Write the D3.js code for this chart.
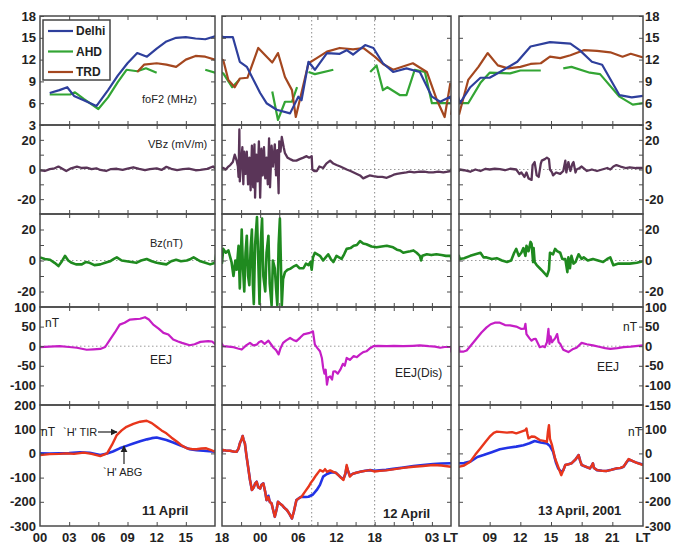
<!DOCTYPE html>
<html>
<head>
<meta charset="utf-8">
<script src="https://cdn.jsdelivr.net/npm/d3@7"></script>
<style>
  body { margin: 0; background: #fff; }
  text { font-family: "Liberation Sans", Arial, sans-serif; }
</style>
</head>
<body>
<svg id="chart" width="680" height="552"></svg>
<script>
// time is hours of local time counted from 00 LT on 11 April 2001
// null marks a gap in the record

// foF2 (MHz)
var fof2Delhi = [[1,7.4],[2,7.8],[2.8,8.2],[3.5,7.0],[4.5,6.4],[5.8,5.6],[7,7.8],[8,9.8],[9,11.5],[10,12.9],[11,12.4],[12,13.5],[13,14.5],[14,15.0],[15,15.1],[16,14.9],[17,14.8],[18,15.2],
  [18.2,15.1],[19.7,15.1],[20.8,11.7],[21.9,11.0],[24,7.4],[25,6.0],[26.6,5.1],[28.7,4.6],[30,6.9],[30.5,6.4],[31.6,11.7],[32.6,10.6],[34.5,12.9],[36.5,12.8],[37.6,13.3],[38.6,12.7],[40.5,14.0],[41.8,13.6],[43.3,11.5],[44.9,10.3],[47,10.8],[49.1,10.3],[51,6.9],[52.3,6.2],[53.9,6.9],
  [54.1,6.0],[55.1,8.2],[56.1,9.5],[57,9.5],[58,10.3],[59.7,11.7],[61,13.8],[62.9,14.4],[64.9,14.2],[65.8,13.3],[67,11.7],[68,11.3],[69.7,7.1],[70.9,6.8],[72,7.0]];
var fof2AHD = [[1,7.2],[3.1,7.2],[3.6,7.5],[4.5,6.6],[6,5.2],[7,6.8],[8,8.9],[8.9,10.6],[10,10.4],[10.9,10.8],[12,10.2],[12.1,null],[17,10.6],[18,10.2],
  [18.2,10.1],[19.6,8.2],[20.8,9.3],[20.9,null],[25.9,7.6],[26.8,3.7],[27.9,6.2],[29,6.2],[29.8,8.2],[29.9,null],[31.6,10.3],[32.6,10.0],[35.5,10.6],[35.6,null],[41.3,10.3],[42.3,11.2],[43.3,7.8],[44,8.2],[46,7.1],[47,7.1],[48.3,10.6],[49.9,10.3],[51,6.0],[54,6.0],
  [54.1,6.0],[54.9,6.0],[56.1,8.8],[57,10.2],[59,10.1],[60,10.5],[62,10.5],[62.1,null],[64.2,10.8],[65,11.0],[66.8,10.2],[67.8,10.0],[69.7,6.9],[71,5.8],[72,6.0]];
var fof2TRD = [[10,10.3],[10.7,11.3],[12,11.5],[13,11.3],[14,11.0],[15,12.0],[16,12.5],[17,12.4],[18,12.0],
  [18.2,11.9],[19,9.2],[20,8.2],[20.8,9.4],[22,9.5],[23.7,13.6],[25.9,11.6],[26.8,12.9],[27.9,9.6],[29,7.8],[29.6,4.1],[30.6,7.8],[31.6,11.5],[32.9,12.2],[34.5,13.1],[36.5,13.6],[38.6,13.4],[40.2,13.6],[42,12.4],[43.3,11.4],[44.9,10.6],[48,11.5],[50.2,10.3],[51.8,6.4],[53,4.1],[53.9,8.8],[53.95,null],
  [54,4.4],[54.9,9.2],[55.9,11.0],[56.8,12.9],[57.8,11.2],[58.8,10.8],[60,11.0],[61,11.4],[62,11.5],[62.9,12.4],[63.9,12.2],[64.9,12.6],[66.2,13.3],[67.5,13.2],[68.8,13.0],[70,12.4],[70.8,12.8],[72,12.3]];

// VBz (mV/m)
var vbz = [[0,-0.5],[0.5,-1],[1,0.2],[1.5,0.8],[1.9,2],[2.3,0.5],[2.7,-1],[3.2,0.8],[3.8,2],[4.3,1],[4.8,1.2],[5.3,0.2],[5.8,0.8],[6.2,-0.3],[6.8,-1],[7.3,0.3],[7.9,0.5],[8.5,-0.2],[9,0.6],[9.6,1.5],[10.2,0.4],[10.8,-0.5],[11.3,0.2],[12,0.8],[12.5,-0.3],[13,1.8],[13.5,0.5],[14.1,-0.4],[14.7,0.3],[15.3,0.6],[16,-0.5],[16.5,-0.2],[17.2,0.4],[17.8,2],[18,1],
  [18.2,1],[18.6,0],[19,2],[19.3,3],[19.7,5],[20.0,10],[20.3,6],[20.5,2],[20.6,-5],[20.73,27],[20.8,-8],[21.0,5],[21.2,15],[21.35,-10],[21.5,12],[21.7,-3],[21.9,12],[22.1,-10],[22.3,8],[22.5,-14],[22.7,16],[22.9,-12],[23.1,17],[23.2,-19],[23.4,10],[23.6,-8],[23.8,19],[24,-19],[24.2,14],[24.4,-4],[24.6,15],[24.8,-6],[25,8],[25.2,-10],[25.4,21],[25.55,-12],[25.8,16],[26,2],[26.3,17],[26.5,-4],[26.7,13],[26.9,-16],[27.0,19],[27.2,12],[27.4,22],[27.7,15],[27.9,11],[28.3,8],[28.7,7],[29.2,6],[29.7,6],[30.2,7],[30.8,8],[31.3,9],[31.7,8],[32.1,9],[32.2,0],[32.5,-1],[32.9,-1],[33.3,2],[33.9,1],[34.4,4],[35,6],[35.5,4],[36,3],[36.6,2],[37.1,1],[37.6,0],[38.2,-1],[38.7,-2],[39.2,-3],[39.7,-4],[40.2,-6],[40.7,-5],[41.2,-4],[41.8,-4.5],[42.5,-5],[43.2,-5],[43.9,-5.6],[44.5,-4.5],[45,-3.5],[45.5,-3],[46.2,-2.5],[47,-2],[47.5,-1.5],[48.2,-2],[49.1,-1.5],[49.8,-1.5],[50.5,-2],[51.2,-2],[52,-1.5],[52.8,-2],[53.5,-1.5],[54,-1],
  [54.05,0],[54.5,-0.5],[55.1,-1.5],[55.6,0],[56.1,-1],[56.6,0.5],[57,0],[57.5,0.5],[58,0.3],[58.5,-0.5],[59,0.5],[59.6,0],[59.9,-3],[60.1,-2],[60.4,-5],[60.6,-2],[60.8,-6],[61.1,-7],[61.2,3],[61.4,5],[61.6,-4],[61.8,-5],[62.0,4],[62.1,6],[62.4,7],[62.6,8],[62.8,7],[62.9,0],[63.1,-2],[63.2,-4],[63.5,-2],[63.9,-3],[64.2,-1],[64.4,6],[64.5,-2],[64.7,5],[64.9,-1],[65.1,4],[65.2,5],[65.4,-2],[65.5,0],[65.8,1],[66,2],[66.5,-1],[67,0],[67.5,-1],[68,0],[68.5,1],[68.8,0],[69.1,2],[69.4,3],[69.8,2],[70.3,1],[70.7,1.5],[71.3,1],[72,1]];

// Bz (nT)
var bz = [[0,2],[0.5,1],[1.03,0.5],[1.5,-1.5],[1.9,-3.6],[2.2,-1],[2.57,3],[2.9,0],[3.26,-1.5],[3.7,-2.5],[4.3,-2.5],[4.7,-1],[5.1,-1.5],[5.6,-3],[6.2,-2.5],[6.7,-1.5],[7.2,-0.5],[7.6,1],[7.9,2],[8.4,0],[8.9,-0.5],[9.4,-1],[9.9,-1.5],[10.4,0],[10.97,1],[11.5,-0.5],[12,-1.5],[12.5,-2],[13,-2.5],[13.5,-0.5],[14,0.5],[14.5,-0.5],[15.1,0],[15.5,1],[15.8,2],[16.2,0.5],[16.5,-0.5],[17,-1.5],[17.5,-2.5],[18,-1.5],
  [18.2,7.5],[18.6,5],[19,6.5],[19.3,2],[19.5,-1],[19.8,-10],[20.1,0],[20.3,-6],[20.6,9.5],[20.8,-18],[21.1,20],[21.3,-5],[21.5,-20],[21.7,5],[21.9,16],[22.1,-10],[22.3,-16],[22.5,8],[22.7,20],[22.85,-15],[23.0,-28],[23.2,10],[23.5,28],[23.7,0],[23.9,-28],[24.1,12],[24.3,27],[24.5,-10],[24.8,-20],[25.0,5],[25.3,16],[25.5,-15],[25.8,-29],[26.0,0],[26.3,-5],[26.5,-18],[26.7,-29],[26.9,10],[27.1,27],[27.25,0],[27.4,-29],[27.6,-12],[27.9,-7.5],[28.3,-6],[28.7,-5.4],[29.2,-4],[29.7,-3],[30.2,-5],[30.8,-5],[31.2,-2],[31.6,-3],[31.9,-1],[32.1,-6],[32.3,2],[32.6,5],[33,4],[33.4,3],[33.9,0],[34.3,2],[34.7,4],[35.1,1],[35.5,-1],[36,3],[36.4,2],[36.8,1],[37.2,4],[37.6,7.5],[38.2,8],[38.7,9.5],[39.2,10],[39.7,12.5],[40.2,11],[40.7,10.5],[41.5,9],[42.3,8.5],[43.1,9],[43.9,9.5],[44.4,9],[44.9,8.5],[45.5,7],[46,6.5],[46.5,5],[47,5.5],[47.6,6],[48.1,6.5],[48.6,5],[49.1,3],[49.3,0],[49.5,3],[50.2,4],[50.9,3.5],[51.7,4],[52.5,3.5],[53.2,3],[54,3],
  [54.05,1],[54.5,1.5],[55.1,3],[55.6,4],[56.1,5],[56.4,2],[56.7,2],[57.2,1],[57.7,1.5],[58.2,0],[58.7,-1],[59.1,0],[59.4,5],[59.6,7.5],[59.85,3],[60.1,5],[60.3,8],[60.5,3],[60.6,9.5],[60.8,6],[61.0,12],[61.1,10.8],[61.25,-1],[61.3,8],[61.4,-1],[61.6,-3],[61.9,-5],[62.2,-7],[62.6,-10],[62.8,-6],[62.9,5],[63.2,4],[63.4,7.5],[63.6,6],[63.9,5],[64.1,1],[64.4,1],[64.6,-7.5],[64.7,2],[64.85,-5],[65.0,3],[65.2,-2],[65.4,-1],[65.7,4],[66.0,1],[66.2,2],[66.6,0],[67.1,1],[67.6,0],[68.1,-1],[68.5,1],[68.8,2],[69.1,-3],[69.6,-2],[70.1,-2],[70.7,-2],[71.4,-1.5],[72,-0.5]];

// EEJ (nT)
var eej = [[0,-2.5],[1,-1],[2,0],[3,-2],[3.8,-4],[4.8,-9],[5.5,-8],[6.2,-7],[6.7,-2],[7.2,17],[7.7,35],[8.2,55],[8.7,60],[9.26,68],[9.8,69],[10.3,70],[10.8,74],[11.2,68],[11.65,55],[12.2,45],[12.7,34],[13.2,30],[13.7,17],[14.2,12],[14.6,8.5],[15.4,2.5],[15.9,5],[16.5,11],[17.3,13],[17.7,12],[18,6],
  [18.2,0],[19,-1],[19.8,-2.5],[20.5,-6],[21.1,-8.5],[21.8,2],[22.4,8.5],[22.9,2],[23.45,4],[23.8,10],[24.2,13],[24.7,6],[25.3,14],[25.7,5],[26.1,-4],[26.5,-10],[26.9,-21],[27.2,-5],[27.6,8.5],[28.1,15],[28.7,21],[29.2,16],[29.7,13],[30.3,22],[30.8,30],[31.3,32],[31.8,34],[32.3,38],[32.6,4],[33.0,-5],[33.4,-13],[33.7,-30],[33.9,-55],[34.1,-70],[34.3,-60],[34.5,-98],[34.7,-80],[35,-77],[35.3,-85],[35.5,-65],[35.8,-64],[36.2,-70],[36.6,-60],[37.0,-45],[37.3,-50],[37.6,-30],[38.1,-35],[38.7,-25],[39.2,-28],[39.7,-21],[40.2,-15],[40.7,-13],[41.2,-6],[41.8,0],[42.5,1],[43.9,0],[45,1],[46.5,0],[48,1],[49.1,2],[50.5,0],[51.5,-1],[52.3,-4],[53,-2],[54,-2],
  [54.05,-14],[54.4,-14],[54.75,-11],[55.2,3],[55.7,19],[56.2,35],[56.7,48],[57.1,56],[57.5,60],[58,60],[58.5,54],[59,53],[59.6,50],[60.1,44],[60.4,45],[60.5,57],[60.6,31],[60.9,20],[61.1,14],[61.3,18],[61.5,19],[61.7,8],[61.9,-2.5],[62.2,0],[62.4,-2.5],[62.6,10],[62.75,44],[62.85,6],[62.95,25],[63.1,10],[63.2,14],[63.4,20],[63.6,31],[63.75,10],[63.9,6],[64.2,-9],[64.7,-15],[65.1,-8],[65.5,-4],[66,8.5],[66.5,5],[67.1,2],[67.8,-2],[68.3,-5],[68.8,-7],[69.5,-5],[70.1,-2.5],[70.8,-1],[71.5,1],[72,2]];

// H (nT): TIR in red, ABG in blue
var hTIR = [[0,-7],[1,-3],[2,-2],[2.74,0],[3.5,-2],[4.5,3],[5.3,-2],[6.2,-11],[6.9,0],[7.4,35],[7.9,76],[8.4,95],[8.9,110],[9.6,122],[10.3,131],[10.97,135],[11.5,125],[12,110],[12.5,95],[13,83],[13.5,66],[14.1,48],[14.6,32],[15.1,21],[15.6,18],[16.1,17],[16.6,20],[17.1,21],[17.6,14],[18,7],
  [18.1,14],[18.6,12],[19.26,11],[19.8,8],[20.3,7],[20.6,20],[20.8,41],[21.1,60],[21.25,72],[21.4,55],[21.6,41],[21.85,-10],[22.1,-55],[22.4,-110],[22.7,-151],[23.0,-140],[23.2,-125],[23.45,-117],[23.7,-140],[24,-145],[24.2,-130],[24.5,-124],[24.8,-160],[25,-193],[25.3,-180],[25.5,-200],[25.8,-207],[26.0,-230],[26.3,-262],[26.6,-230],[26.8,-200],[27.1,-207],[27.5,-215],[27.8,-225],[28.2,-234],[28.6,-250],[29,-269],[29.3,-240],[29.7,-193],[30.1,-185],[30.5,-179],[31,-160],[31.6,-138],[32,-120],[32.3,-110],[32.8,-90],[33.4,-69],[33.9,-75],[34.2,-65],[34.5,-76],[35,-70],[35.5,-76],[35.9,-80],[36.3,-90],[36.7,-100],[37.1,-110],[37.4,-80],[37.6,-48],[37.8,-70],[38.1,-96],[38.5,-85],[39.1,-80],[39.7,-76],[40.5,-72],[41.3,-69],[42,-75],[42.8,-72],[43.8,-70],[44.9,-66],[46.5,-60],[48.1,-55],[49.6,-52],[51.2,-48],[52.5,-50],[54,-55],
  [54.05,-55],[54.5,-50],[55.1,-34],[55.6,-5],[56.1,21],[56.6,48],[57,69],[57.4,85],[57.7,90],[58.2,88],[58.7,86],[59.2,88],[59.6,83],[60.1,90],[60.5,96],[60.6,103],[60.7,80],[60.8,62],[61.1,70],[61.4,69],[61.9,55],[62.3,52],[62.6,48],[62.7,90],[62.8,117],[62.9,60],[63.1,34],[63.4,-21],[63.7,-55],[64,-90],[64.2,-70],[64.4,-48],[64.7,-45],[65,-41],[65.4,-25],[65.7,-7],[65.85,-30],[66,-48],[66.4,-55],[66.8,-62],[67,-50],[67.1,-41],[67.2,-60],[67.5,-69],[68,-72],[68.4,-73],[68.9,-68],[69.4,-62],[69.8,-60],[70.1,-55],[70.4,-35],[70.6,-23],[71,-32],[71.4,-39],[72,-48]];
var hABG = [[0,0],[1,-1],[2,0],[3,1],[4.1,5],[5.1,3],[6.2,-7],[6.9,0],[7.5,8],[8.2,21],[8.9,31],[9.6,41],[10.3,50],[11,58],[11.5,63],[12,66],[12.5,61],[13,55],[13.7,45],[14.4,34],[15,24],[15.4,17],[16.1,13],[16.8,11],[17.4,9],[18,7],
  [18.1,14],[18.6,12],[19.26,11],[19.8,8],[20.3,7],[20.6,20],[20.8,41],[21.1,60],[21.25,72],[21.4,55],[21.6,41],[21.85,-10],[22.1,-55],[22.4,-110],[22.7,-151],[23.0,-140],[23.2,-125],[23.45,-117],[23.7,-140],[24,-145],[24.2,-130],[24.5,-124],[24.8,-160],[25,-193],[25.3,-175],[25.5,-200],[25.8,-207],[26.0,-230],[26.3,-262],[26.6,-230],[26.8,-200],[27.1,-207],[27.5,-215],[27.8,-225],[28.2,-234],[28.6,-250],[29,-269],[29.3,-240],[29.7,-193],[30.1,-185],[30.5,-179],[31.2,-180],[31.6,-179],[32.3,-170],[32.9,-151],[33.4,-130],[33.9,-96],[34.5,-85],[35,-80],[35.5,-78],[35.9,-80],[36.3,-90],[36.7,-100],[37.1,-105],[37.4,-85],[37.6,-55],[37.8,-72],[38.1,-92],[38.5,-85],[39.1,-80],[39.7,-76],[40.5,-72],[41.3,-69],[42,-72],[42.8,-70],[43.8,-68],[44.9,-64],[46.5,-58],[48.1,-52],[49.6,-48],[51.2,-44],[52.5,-42],[54,-41],
  [54.05,-41],[54.5,-40],[55.1,-34],[55.8,-15],[56.4,-7],[57.2,5],[58,17],[58.8,23],[59.6,28],[60.3,34],[60.9,42],[61.4,51],[62,45],[62.6,41],[62.9,30],[63.2,7],[63.5,-40],[63.7,-62],[64,-76],[64.2,-70],[64.4,-48],[64.7,-45],[65,-41],[65.4,-25],[65.7,-7],[65.85,-30],[66,-48],[66.4,-55],[66.8,-62],[67,-50],[67.1,-41],[67.2,-60],[67.5,-69],[68,-72],[68.4,-73],[68.9,-68],[69.4,-62],[69.8,-60],[70.1,-55],[70.4,-37],[70.6,-25],[71,-32],[71.4,-39],[72,-46]];

// axis labels
var fof2Ticks = [3, 6, 9, 12, 15, 18];
var fieldTicks = [-20, 0, 20];
var eejLeftTicks = [-100, -50, 0, 50, 100];
var eejRightTicks = [-150, -100, -50, 0, 50, 100];
var hLeftTicks = [-300, -200, -100, 0, 100, 200];
var hRightTicks = [-300, -200, -100, 0, 100];
var legendNames = ["Delhi", "AHD", "TRD"];
var bottomLabels = [[0,"00"],[3,"03"],[6,"06"],[9,"09"],[12,"12"],[15,"15"],[18,"18"],[24,"00"],[30,"06"],[36,"12"],[42,"18"],[51,"03"],[57,"09"],[60,"12"],[63,"15"],[66,"18"],[69,"21"]];
var dayNames = ["11 April", "12 April", "13 April, 2001"];

(function () {
  var svg = d3.select("#chart");
  svg.append("rect").attr("width", 680).attr("height", 552).attr("fill", "#fff");

  var frameColor = "#4a4a4a";
  var cols = [
    {x0: 40, x1: 215, t0: 0, t1: 18},
    {x0: 222, x1: 451, t0: 18, t1: 54},
    {x0: 459, x1: 643, t0: 54, t1: 72}
  ];
  var rows = [
    {y0: 16, y1: 125, dom: [3, 18], ticks: d3.range(3, 19, 3), left: fof2Ticks, right: fof2Ticks},
    {y0: 125, y1: 214, dom: [-30, 30], ticks: d3.range(-20, 21, 10), left: fieldTicks, right: fieldTicks, zero: true},
    {y0: 214, y1: 307, dom: [-30, 30], ticks: d3.range(-20, 21, 10), left: fieldTicks, right: fieldTicks, zero: true},
    {y0: 307, y1: 405, dom: [-150, 100], ticks: d3.range(-100, 51, 50), left: eejLeftTicks, right: eejRightTicks, zero: true},
    {y0: 405, y1: 526, dom: [-300, 200], ticks: d3.range(-200, 101, 100), left: hLeftTicks, right: hRightTicks}
  ];
  cols.forEach(function(c) { c.x = d3.scaleLinear().domain([c.t0, c.t1]).range([c.x0, c.x1]); });
  rows.forEach(function(r) { r.y = d3.scaleLinear().domain(r.dom).range([r.y1, r.y0]); });

  var series = [
    {row: 0, data: fof2AHD, color: "#33a534", width: 2.2},
    {row: 0, data: fof2TRD, color: "#a4471f", width: 2.2},
    {row: 0, data: fof2Delhi, color: "#2e3f9c", width: 2.2},
    {row: 1, data: vbz, color: "#5a3558", width: 2.3},
    {row: 2, data: bz, color: "#1f8a1f", width: 2.6},
    {row: 3, data: eej, color: "#c51ec5", width: 2.2},
    {row: 4, data: hABG, color: "#2233e6", width: 2.6},
    {row: 4, data: hTIR, color: "#e8361c", width: 2.4}
  ];

  var defs = svg.append("defs");
  cols.forEach(function(c, ci) {
    rows.forEach(function(r, ri) {
      defs.append("clipPath").attr("id", "clip" + ci + "_" + ri)
        .append("rect")
        .attr("x", c.x0).attr("y", r.y0)
        .attr("width", c.x1 - c.x0).attr("height", r.y1 - r.y0);
    });
  });

  // dotted reference lines
  cols.forEach(function(c) {
    rows.forEach(function(r) {
      if (!r.zero) return;
      svg.append("line")
        .attr("x1", c.x0).attr("x2", c.x1)
        .attr("y1", r.y(0)).attr("y2", r.y(0))
        .attr("stroke", "#9a9a9a").attr("stroke-width", 1)
        .attr("stroke-dasharray", "1.5,2.5");
    });
  });
  [32.1, 42].forEach(function(t) {
    svg.append("line")
      .attr("x1", cols[1].x(t)).attr("x2", cols[1].x(t))
      .attr("y1", rows[0].y0).attr("y2", rows[4].y1)
      .attr("stroke", "#8a8a8a").attr("stroke-width", 1)
      .attr("stroke-dasharray", "1.5,2.5");
  });

  // data lines
  cols.forEach(function(c, ci) {
    series.forEach(function(s) {
      var r = rows[s.row];
      var line = d3.line()
        .defined(function(d) { return d[1] !== null; })
        .x(function(d) { return c.x(d[0]); })
        .y(function(d) { return r.y(d[1]); });
      svg.append("path")
        .datum(s.data)
        .attr("clip-path", "url(#clip" + ci + "_" + s.row + ")")
        .attr("d", line)
        .attr("fill", "none")
        .attr("stroke", s.color)
        .attr("stroke-width", s.width)
        .attr("stroke-linejoin", "round");
    });
  });

  // frames and inward ticks
  cols.forEach(function(c) {
    var hours = d3.range(c.t0 + 3, c.t1, 3);
    rows.forEach(function(r) {
      var g = svg.append("g").attr("class", "frame");
      g.append("g").attr("transform", "translate(0," + r.y1 + ")")
        .call(d3.axisBottom(c.x).tickValues(hours).tickSizeInner(-4).tickSizeOuter(0).tickFormat(""));
      g.append("g").attr("transform", "translate(0," + r.y0 + ")")
        .call(d3.axisTop(c.x).tickValues(hours).tickSizeInner(-4).tickSizeOuter(0).tickFormat(""));
      g.append("g").attr("transform", "translate(" + c.x0 + ",0)")
        .call(d3.axisLeft(r.y).tickValues(r.ticks).tickSizeInner(-4).tickSizeOuter(0).tickFormat(""));
      g.append("g").attr("transform", "translate(" + c.x1 + ",0)")
        .call(d3.axisRight(r.y).tickValues(r.ticks).tickSizeInner(-4).tickSizeOuter(0).tickFormat(""));
      g.selectAll(".domain").remove();
      g.selectAll(".tick line").attr("stroke", frameColor).attr("stroke-width", 1);
      g.append("rect")
        .attr("x", c.x0).attr("y", r.y0)
        .attr("width", c.x1 - c.x0).attr("height", r.y1 - r.y0)
        .attr("fill", "none").attr("stroke", frameColor).attr("stroke-width", 1.5);
    });
  });

  // value labels
  rows.forEach(function(r) {
    r.left.forEach(function(v) {
      svg.append("text").attr("x", 36).attr("y", r.y(v)).attr("dy", "0.36em")
        .attr("text-anchor", "end").attr("font-size", 13).attr("font-weight", "bold")
        .attr("fill", "#222").text(v);
    });
    r.right.forEach(function(v) {
      svg.append("text").attr("x", 645).attr("y", r.y(v)).attr("dy", "0.36em")
        .attr("text-anchor", "start").attr("font-size", 13).attr("font-weight", "bold")
        .attr("fill", "#222").text(v);
    });
  });

  // hour labels
  bottomLabels.forEach(function(b) {
    var c = b[0] < 18 ? cols[0] : (b[0] < 54 ? cols[1] : cols[2]);
    svg.append("text").attr("x", c.x(b[0])).attr("y", 542)
      .attr("text-anchor", "middle").attr("font-size", 13).attr("font-weight", "bold")
      .attr("fill", "#222").text(b[1]);
  });
  svg.append("text").attr("x", 443).attr("y", 542).attr("font-size", 13)
    .attr("font-weight", "bold").attr("fill", "#222").text("LT");
  svg.append("text").attr("x", cols[2].x(72)).attr("y", 542).attr("text-anchor", "middle")
    .attr("font-size", 13).attr("font-weight", "bold").attr("fill", "#222").text("LT");

  // legend
  var legendColors = ["#2e3f9c", "#33a534", "#a4471f"];
  svg.append("rect").attr("x", 43).attr("y", 20).attr("width", 67).attr("height", 60)
    .attr("fill", "#fff").attr("stroke", "#444").attr("stroke-width", 1.5);
  legendNames.forEach(function(name, i) {
    var y = 31 + i * 20.5;
    svg.append("line").attr("x1", 48).attr("x2", 73).attr("y1", y).attr("y2", y)
      .attr("stroke", legendColors[i]).attr("stroke-width", 2.2);
    svg.append("text").attr("x", 76).attr("y", y).attr("dy", "0.36em")
      .attr("font-size", 12).attr("font-weight", "bold").attr("fill", "#222").text(name);
  });

  // panel notes
  function note(x, y, txt, size, bold, anchor) {
    svg.append("text").attr("x", x).attr("y", y).attr("font-size", size)
      .attr("font-weight", bold ? "bold" : "normal")
      .attr("text-anchor", anchor || "start").attr("fill", "#222").text(txt);
  }
  note(142, 103, "foF2 (MHz)", 11);
  note(148, 148, "VBz (mV/m)", 11);
  note(150, 247, "Bz(nT)", 11);
  note(45, 327, "nT", 12);
  note(150, 364, "EEJ", 12);
  note(395, 377, "EEJ(Dis)", 12);
  note(623, 331, "nT", 12);
  note(597, 371, "EEJ", 12);
  note(41, 436, "nT", 12);
  note(63, 436, "`H' TIR", 11);
  note(103, 476, "`H' ABG", 11);
  note(642, 436, "nT", 12, false, "end");
  note(142, 515, dayNames[0], 13, true);
  note(383, 518, dayNames[1], 13, true);
  note(538, 515, dayNames[2], 13, true);

  var arrow = defs.append("marker").attr("id", "arrow")
    .attr("viewBox", "0 0 10 10").attr("refX", 9).attr("refY", 5)
    .attr("markerWidth", 6).attr("markerHeight", 6).attr("orient", "auto");
  arrow.append("path").attr("d", "M0,0L10,5L0,10z").attr("fill", "#222");
  svg.append("line").attr("x1", 98).attr("x2", 117).attr("y1", 432).attr("y2", 432)
    .attr("stroke", "#222").attr("stroke-width", 1.2).attr("marker-end", "url(#arrow)");
  svg.append("line").attr("x1", 124).attr("x2", 124).attr("y1", 464).attr("y2", 446)
    .attr("stroke", "#222").attr("stroke-width", 1.2).attr("marker-end", "url(#arrow)");
})();
</script>
</body>
</html>
